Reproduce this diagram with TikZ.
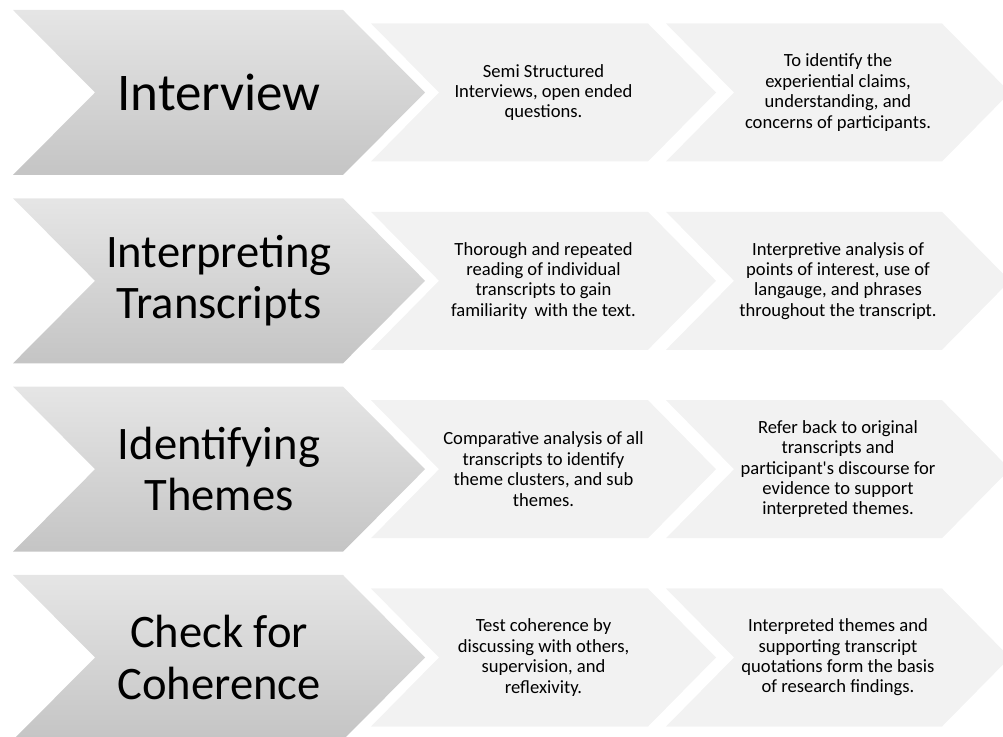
\documentclass[tikz,border=0pt]{standalone}
\usepackage{fontspec}
\setmainfont{Carlito}

\begin{document}
\begin{tikzpicture}[x=1pt, y=1pt,
  stagefill/.style={top color=black!10, bottom color=black!23},
  detailfill/.style={fill=black!5},
  stagetext/.style={align=center, inner sep=0pt, font=\fontsize{46.6}{51.2}\selectfont},
  detailtext/.style={align=center, inner sep=0pt, font=\fontsize{18.6}{20.4}\selectfont}]
\useasboundingbox (0,0) rectangle (1003,736);
% big chevrons on the left
\shade[stagefill] (13,726)   -- ++(330,0) -- ++(82,-82.5) -- ++(-82,-82.5) -- ++(-330,0) -- ++(82,82.5) -- cycle;
\shade[stagefill] (13,537.7) -- ++(330,0) -- ++(82,-82.5) -- ++(-82,-82.5) -- ++(-330,0) -- ++(82,82.5) -- cycle;
\shade[stagefill] (13,349.3) -- ++(330,0) -- ++(82,-82.5) -- ++(-82,-82.5) -- ++(-330,0) -- ++(82,82.5) -- cycle;
\shade[stagefill] (13,161)   -- ++(330,0) -- ++(82,-82.5) -- ++(-82,-82.5) -- ++(-330,0) -- ++(82,82.5) -- cycle;
% light chevrons, first column
\fill[detailfill] (371,712.5) -- ++(277,0) -- ++(68,-69) -- ++(-68,-69) -- ++(-277,0) -- ++(68,69) -- cycle;
\fill[detailfill] (371,524.2) -- ++(277,0) -- ++(68,-69) -- ++(-68,-69) -- ++(-277,0) -- ++(68,69) -- cycle;
\fill[detailfill] (371,335.8) -- ++(277,0) -- ++(68,-69) -- ++(-68,-69) -- ++(-277,0) -- ++(68,69) -- cycle;
\fill[detailfill] (371,147.5) -- ++(277,0) -- ++(68,-69) -- ++(-68,-69) -- ++(-277,0) -- ++(68,69) -- cycle;
% light chevrons, second column
\fill[detailfill] (666,712.5) -- ++(276,0) -- ++(68,-69) -- ++(-68,-69) -- ++(-276,0) -- ++(68,69) -- cycle;
\fill[detailfill] (666,524.2) -- ++(276,0) -- ++(68,-69) -- ++(-68,-69) -- ++(-276,0) -- ++(68,69) -- cycle;
\fill[detailfill] (666,335.8) -- ++(276,0) -- ++(68,-69) -- ++(-68,-69) -- ++(-276,0) -- ++(68,69) -- cycle;
\fill[detailfill] (666,147.5) -- ++(276,0) -- ++(68,-69) -- ++(-68,-69) -- ++(-276,0) -- ++(68,69) -- cycle;
% stage names
\node[stagetext, font=\fontsize{53}{58}\selectfont] (s1) at (219, 643.5) {Interview};
\node[stagetext] (s2) at (219, 455.2) {Interpreting\\Transcripts};
\node[stagetext] (s3) at (219, 266.8) {Identifying\\Themes};
\node[stagetext] (s4) at (219, 78.5) {Check for\\Coherence};
% first detail of each stage
\node[detailtext] (d1a) at (543.5, 643.5) {Semi Structured\\Interviews, open ended\\questions.};
\node[detailtext] (d2a) at (543.5, 455.2) {Thorough and repeated\\reading of individual\\transcripts to gain\\familiarity\, with the text.};
\node[detailtext] (d3a) at (543.5, 266.8) {Comparative analysis of all\\transcripts to identify\\theme clusters, and sub\\themes.};
\node[detailtext] (d4a) at (543.5, 78.5) {Test coherence by\\discussing with others,\\supervision, and\\reflexivity.};
% second detail of each stage
\node[detailtext] (d1b) at (838, 643.5) {To identify the\\experiential claims,\\understanding, and\\concerns of participants.};
\node[detailtext] (d2b) at (838, 455.2) {Interpretive analysis of\\points of interest, use of\\langauge, and phrases\\throughout the transcript.};
\node[detailtext] (d3b) at (838, 266.8) {Refer back to original\\transcripts and\\participant\textquotesingle s discourse for\\evidence to support\\interpreted themes.};
\node[detailtext] (d4b) at (838, 78.5) {Interpreted themes and\\supporting transcript\\quotations form the basis\\of research findings.};
\end{tikzpicture}
\end{document}
